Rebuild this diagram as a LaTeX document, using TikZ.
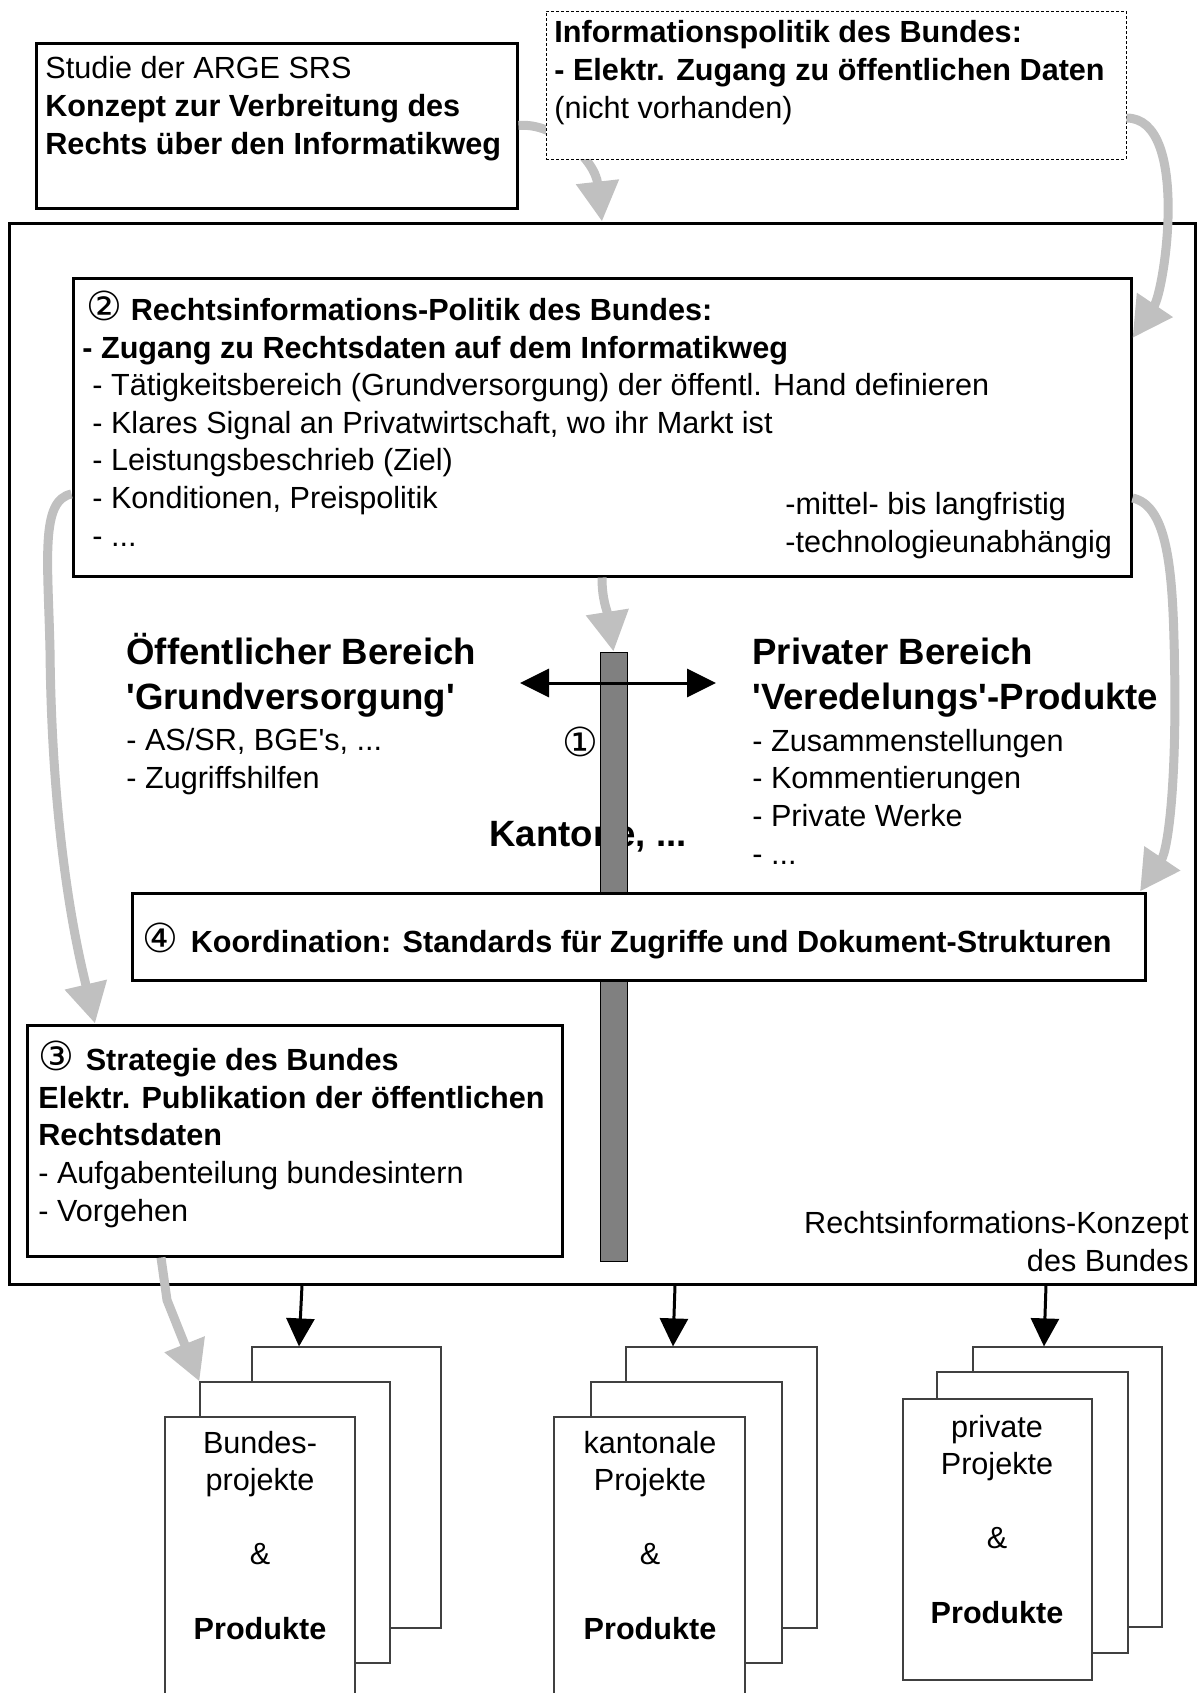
\documentclass[tikz,border=0pt]{standalone}
\usepackage{fontspec}
\setmainfont{Liberation Sans}
\newfontfamily\circfont{DejaVu Sans}
\usetikzlibrary{arrows.meta,fit}
\definecolor{arrowgray}{RGB}{192,192,192}
\definecolor{bargray}{RGB}{128,128,128}
\newcommand{\circnum}[1]{{\circfont\fontsize{20}{18}\selectfont #1}}

\begin{document}
\begin{tikzpicture}[x=0.5pt,y=-0.5pt,
	box/.style={draw,line width=1.5pt,fill=white,inner sep=0pt},
	infobox/.style={draw,line width=0.5pt,dash pattern=on 1.5pt off 1pt,fill=white,inner sep=0pt},
	page/.style={draw=black!75,line width=0.6pt,fill=white,inner sep=0pt},
	txt/.style={font=\fontsize{15.3}{18.8}\selectfont,align=left,inner sep=0pt,anchor=base west},
	bigtxt/.style={font=\fontsize{18.3}{22.5}\selectfont\bfseries,align=left,inner sep=0pt,anchor=base west},
	pagetxt/.style={font=\fontsize{15.3}{18.6}\selectfont,align=center,inner sep=0pt,anchor=base},
	grayarrow/.style={color=arrowgray,line width=4.5pt,-{Triangle[width=20.5pt,length=20pt]}},
	blackarrow/.style={line width=1.5pt,-{Triangle[width=14pt,length=14pt]}}]
	
	\useasboundingbox (0,0) rectangle (1197,1693);
	
	%OUTER FRAME
	\node[box,fit={(9,223) (1195,1284)}] (concept) {};
	
	%STUDY AND INFORMATION POLICY
	\node[box,fit={(36,43) (517,208)}] (studie) {};
	\draw[grayarrow] (studie.east) .. controls (555,122) and (595,160) .. (concept.north);
	\node[infobox,fit={(546,11) (1126,159)}] (infopol) {};
	\node[txt] (studietxt) at (45,154) {Studie der ARGE SRS\\\textbf{Konzept zur Verbreitung des}\\\textbf{Rechts über den Informatikweg}};
	\node[txt] (infotxt) at (554,118) {\textbf{Informationspolitik des Bundes:}\\\textbf{- Elektr. Zugang zu öffentlichen Daten}\\(nicht vorhanden)};
	
	%POLICY (2)
	\node[box,fit={(73,278) (1131,576)}] (politik) {};
	\node[txt] (politiktxt) at (82,546) {\hspace*{2pt}\circnum{②} \textbf{Rechtsinformations-Politik des Bundes:}\\
		\textbf{- Zugang zu Rechtsdaten auf dem Informatikweg}\\
		\hspace*{5pt}- Tätigkeitsbereich (Grundversorgung) der öffentl. Hand definieren\\
		\hspace*{5pt}- Klares Signal an Privatwirtschaft, wo ihr Markt ist\\
		\hspace*{5pt}- Leistungsbeschrieb (Ziel)\\
		\hspace*{5pt}- Konditionen, Preispolitik\\
		\hspace*{5pt}- ...};
	\node[txt] (fristtxt) at (785,552) {-mittel- bis langfristig\\-technologieunabhängig};
	
	%PUBLIC AND PRIVATE
	\node[bigtxt] (oeff) at (126,709) {Öffentlicher Bereich\\\textquotesingle Grundversorgung\textquotesingle};
	\node[txt] (oefflist) at (126,788) {- AS/SR, BGE\textquotesingle s, ...\\- Zugriffshilfen};
	\node[bigtxt] (priv) at (752,709) {Privater Bereich\\\textquotesingle Veredelungs\textquotesingle -Produkte};
	\node[txt] (privlist) at (752,864) {- Zusammenstellungen\\- Kommentierungen\\- Private Werke\\- ...};
	\node[bigtxt,anchor=base] (kantone) at (588,846) {Kantone, ...};
	
	%BAR
	\node[fill=bargray,draw=black,line width=0.5pt,inner sep=0pt,fit={(600,652) (627,1261)}] (bar) {};
	\node[inner sep=0pt] (one) at (580,742) {\circnum{①}};
	\coordinate (oeffend) at (520,683);
	\coordinate (privend) at (716,683);
	\draw[line width=1.5pt,{Triangle[width=14pt,length=14.5pt]}-{Triangle[width=14pt,length=14.5pt]}] (oeffend) -- (privend);
	
	%COORDINATION (4)
	\node[box,fit={(132,893) (1145,980)}] (koord) {};
	\node[txt] (koordtxt) at (142,952) {\circnum{④}\hspace{2pt} \textbf{Koordination: Standards für Zugriffe und Dokument-Strukturen}};
	
	%STRATEGY (3)
	\node[box,fit={(27,1025) (562,1256)}] (strat) {};
	\node[txt] (strattxt) at (38,1221) {\circnum{③}\hspace{1.5pt} \textbf{Strategie des Bundes}\\
		\textbf{Elektr. Publikation der öffentlichen}\\
		\textbf{Rechtsdaten}\\
		- Aufgabenteilung bundesintern\\
		- Vorgehen};
	\node[txt,align=right,anchor=base east] (concepttxt) at (1189,1271) {Rechtsinformations-Konzept\\des Bundes};
	
	%PROJECT STACKS
	\node[page,fit={(252,1347) (441,1628)}] (pageL1) {};
	\node[page,fit={(200,1382) (390,1663)}] (pageL2) {};
	\node[page,fit={(165,1417) (355,1720)}] (pageL3) {};
	\node[pagetxt] (projL) at (260,1639) {Bundes-\\projekte\\[18.6pt]\&\\[18.6pt]\textbf{Produkte}};
	
	\node[page,fit={(626,1347) (817,1628)}] (pageM1) {};
	\node[page,fit={(591,1382) (782,1663)}] (pageM2) {};
	\node[page,fit={(554,1417) (745,1720)}] (pageM3) {};
	\node[pagetxt] (projM) at (650,1639) {kantonale\\Projekte\\[18.6pt]\&\\[18.6pt]\textbf{Produkte}};
	
	\node[page,fit={(973,1347) (1162,1627)}] (pageR1) {};
	\node[page,fit={(937,1372) (1128,1653)}] (pageR2) {};
	\node[page,fit={(903,1399) (1092,1680)}] (pageR3) {};
	\node[pagetxt] (projR) at (997,1623) {private\\Projekte\\[18.6pt]\&\\[18.6pt]\textbf{Produkte}};
	
	%ARROWS
	\draw[grayarrow] (infopol.east |- 0,118) .. controls (1190,118) and (1165,290) .. (politik.east |- 0,338);
	\draw[grayarrow] (politik.west |- 0,494) .. controls (40,500) and (48,560) .. (50,650) .. controls (52,850) and (80,960) .. (strat.north -| 95,0);
	\draw[grayarrow] (politik.east |- 0,498) .. controls (1165,505) and (1172,560) .. (1174,640) .. controls (1178,780) and (1168,850) .. (koord.north -| 1140,0);
	\draw[grayarrow] (politik.south) .. controls (602,600) and (607,610) .. (bar.north);
	\draw[grayarrow] (strat.south -| 161,0) -- (167,1300) -- (pageL2.north west);
	
	\draw[blackarrow] (concept.south -| 302,0) -- (pageL1.north -| 299,0);
	\draw[blackarrow] (concept.south -| 675,0) -- (pageM1.north -| 673,0);
	\draw[blackarrow] (concept.south -| 1046,0) -- (pageR1.north -| 1044,0);
	
\end{tikzpicture}
\end{document}
